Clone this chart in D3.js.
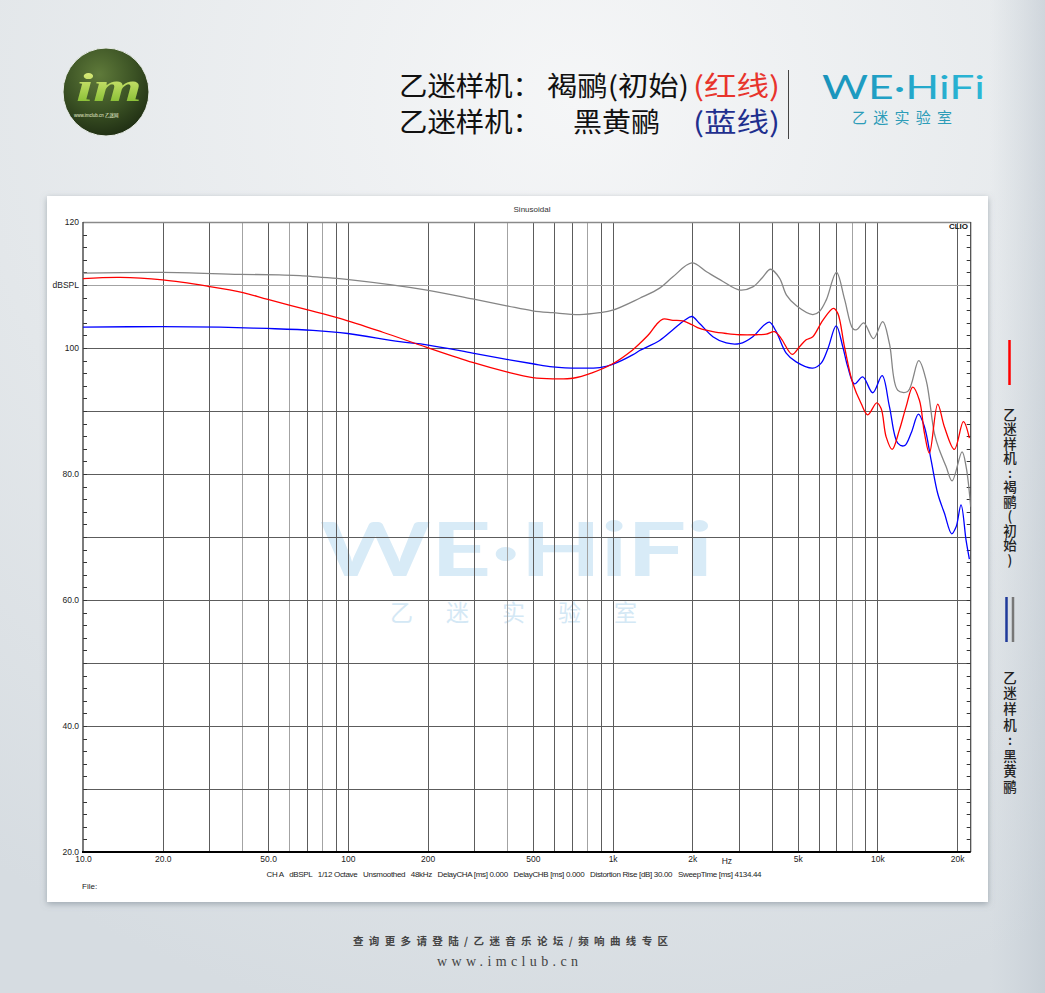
<!DOCTYPE html>
<html><head><meta charset="utf-8">
<script src="https://cdn.jsdelivr.net/npm/d3@7"></script>
<style>body{margin:0;background:#e4e8eb;overflow:hidden} svg{display:block}</style>
</head><body><svg id="c" width="1045" height="993"></svg>
<script>
// ---------------- DATA ----------------
const redFreq = [10,13.8,20,29.6,40.2,49.9,70,93.3,135.6,198.7,296,398,499,594,707,841,1000,1190,1265,1379,1462,1548,1689,1842,1992,2130,2391,2686,3015,3485,3802,4087,4331,4765,5077,5381,5700,6218,6823,7084,7508,8069,8680,9191,9940,10327,10785,11364,12106,12833,13593,14406,15047,15713,16889,17895,19525,21108,22240];
const redDb   = [111.0,111.2,110.8,109.8,108.8,107.7,106.1,104.7,102.5,100.1,97.7,96.2,95.3,95.1,95.2,96.1,97.5,99.7,100.7,102.3,103.7,104.6,104.4,104.3,103.7,103.1,102.6,102.3,102.1,102.1,102.2,102.6,101.5,99.0,100.2,101.3,101.8,104.4,106.3,105.5,100.2,94.4,91.2,89.4,91.3,90.4,85.9,83.9,87.0,90.7,93.8,91.7,86.5,83.3,91.1,87.5,83.9,88.3,85.7];

const blueFreq = [10,20,32.9,49.5,73.8,100,157,198.7,296,398,499,594,751,893,1000,1190,1265,1505,1689,1870,1992,2130,2391,2686,3015,3384,3746,3913,4148,4523,4933,5700,6131,6500,6985,7398,7726,8188,8801,9600,10417,11100,11931,12645,13406,14281,15047,15947,16889,17895,19071,19815,20690,21610,22240];
const blueDb   = [103.3,103.4,103.3,103.1,102.8,102.3,101.0,100.5,99.2,98.2,97.5,97.0,96.8,96.9,97.4,98.9,99.6,101.2,102.9,104.4,105.0,103.9,101.8,100.8,100.7,101.8,103.7,104.1,102.6,99.2,97.8,96.8,97.6,99.9,103.5,100.2,97.0,94.3,95.4,92.9,95.6,90.7,84.9,84.5,86.5,89.5,87.5,82.2,76.9,73.8,70.5,71.6,75.1,69.5,66.5];

const grayFreq = [10,20,39,55,66,93,99,199,296,398,499,594,751,893,1000,1265,1505,1689,1992,2263,2601,3015,3384,3681,3947,4267,4535,4946,5700,6040,6404,7003,7508,8069,8354,8879,9659,10471,11100,11931,13012,14318,15270,16413,17140,18161,19137,20872,21610,22500];
const grayDb   = [111.9,112.0,111.7,111.6,111.5,111.0,110.9,109.2,107.8,106.7,105.9,105.6,105.3,105.6,106.0,107.9,109.5,111.3,113.5,112.1,110.6,109.2,109.7,111.2,112.5,111.1,108.4,106.7,105.3,105.8,107.6,112.0,107.8,103.1,102.9,104.0,101.5,104.2,100.7,93.3,93.1,98.0,94.9,86.4,83.8,81.2,78.9,83.5,81.2,74.8];

const xTickValues = [10,20,50,100,200,500,1000,2000,5000,10000,20000];
const xTickLabels = ["10.0","20.0","50.0","100","200","500","1k","2k","5k","10k","20k"];
const yTickValues = [20,40,60,80,100,110,120];
const yTickLabels = ["20.0","40.0","60.0","80.0","100","dBSPL","120"];

const titleLine1 = ["乙迷样机：","褐鹂(初始)","(红线)"];
const titleLine2 = ["乙迷样机：","黑黄鹂","(蓝线)"];
const legendText1 = "乙迷样机:褐鹂(初始)";
const legendText2 = "乙迷样机:黑黄鹂";
const infoText = "CH A   dBSPL   1/12 Octave   Unsmoothed   48kHz   DelayCHA [ms] 0.000   DelayCHB [ms] 0.000   Distortion Rise [dB] 30.00   SweepTime [ms] 4134.44";
const footerText = "查询更多请登陆/乙迷音乐论坛/频响曲线专区";
const footerUrl = "www.imclub.cn";

// ---------------- DRAW ----------------
const svg = d3.select("#c");
const defs = svg.append("defs");

// background gradients
const bg = defs.append("radialGradient").attr("id","bg").attr("cx","0.55").attr("cy","0.1").attr("r","0.95");
bg.append("stop").attr("offset","0").attr("stop-color","#f5f6f7");
bg.append("stop").attr("offset","0.6").attr("stop-color","#e3e7ea");
bg.append("stop").attr("offset","1").attr("stop-color","#d6dce1");
const rs = defs.append("linearGradient").attr("id","rs").attr("x1","0").attr("x2","1").attr("y1","0").attr("y2","0");
rs.append("stop").attr("offset","0").attr("stop-color","#c5ced6").attr("stop-opacity","0");
rs.append("stop").attr("offset","1").attr("stop-color","#bcc5ce").attr("stop-opacity","0.55");
svg.append("rect").attr("width",1045).attr("height",993).attr("fill","url(#bg)");
svg.append("rect").attr("x",990).attr("width",55).attr("height",993).attr("fill","url(#rs)");

// shadow filter
const f = defs.append("filter").attr("id","sh").attr("x","-5%").attr("y","-5%").attr("width","110%").attr("height","112%");
f.append("feDropShadow").attr("dx",0).attr("dy",2).attr("stdDeviation",3).attr("flood-color","#6d7a86").attr("flood-opacity",0.55);

// logo
const lg = defs.append("radialGradient").attr("id","logo").attr("cx","0.42").attr("cy","0.3").attr("r","0.75");
lg.append("stop").attr("offset","0").attr("stop-color","#5f7a3a");
lg.append("stop").attr("offset","0.55").attr("stop-color","#3b5224");
lg.append("stop").attr("offset","1").attr("stop-color","#1d2b12");
const ig = defs.append("linearGradient").attr("id","im").attr("x1","0").attr("x2","0").attr("y1","0").attr("y2","1");
ig.append("stop").attr("offset","0").attr("stop-color","#eef58a");
ig.append("stop").attr("offset","1").attr("stop-color","#74b424");
svg.append("ellipse").attr("cx",106).attr("cy",92).attr("rx",43).attr("ry",44).attr("fill","url(#logo)").attr("stroke","#e8ece8").attr("stroke-width",1);
svg.append("text").attr("x",76).attr("y",101).attr("font-family","Liberation Serif, serif").attr("font-style","italic").attr("font-weight","bold").attr("font-size",40)
  .attr("fill","url(#im)").attr("textLength",66).attr("lengthAdjust","spacingAndGlyphs").text("im");
svg.append("text").attr("x",74).attr("y",117).attr("font-family","Liberation Sans, Noto Sans CJK SC, sans-serif").attr("font-size",4.5).attr("fill","#e8f0d0").text("www.imclub.cn   乙迷网");

// title
const tFont = "'Noto Sans CJK SC', sans-serif";
function titleLine(parts, y, xs, lens, colors){
  parts.forEach((p,i)=>{
    svg.append("text").attr("x",xs[i]).attr("y",y).attr("font-family",tFont).attr("font-size",27)
      .attr("fill",colors[i]).attr("textLength",lens[i]).attr("lengthAdjust","spacingAndGlyphs").text(p);
  });
}
titleLine(titleLine1, 96, [399,547,693], [142,142,87], ["#111","#111","#e8342c"]);
titleLine(titleLine2, 132, [399,573,693], [142,87,87], ["#111","#111","#1f2f8e"]);
svg.append("line").attr("x1",788.5).attr("x2",788.5).attr("y1",70).attr("y2",139).attr("stroke","#444").attr("stroke-width",1);

const wg = defs.append("linearGradient").attr("id","we").attr("x1","0").attr("x2","1").attr("y1","0").attr("y2","0");
wg.append("stop").attr("offset","0").attr("stop-color","#1a93bb");
wg.append("stop").attr("offset","1").attr("stop-color","#2bb7d6");
svg.append("text").attr("x",822).attr("y",99).attr("font-family","Lato, 'Open Sans', sans-serif").attr("font-size",33)
  .attr("fill","url(#we)").attr("textLength",163).attr("lengthAdjust","spacingAndGlyphs").text("WE·HiFi");
svg.append("text").attr("x",852).attr("y",123).attr("font-family",tFont).attr("font-size",15)
  .attr("fill","#2c9cb8").attr("textLength",100).attr("lengthAdjust","spacing").text("乙迷实验室");

// panel
svg.append("rect").attr("x",47).attr("y",196).attr("width",941).attr("height",706).attr("fill","#fff").attr("filter","url(#sh)");

// scales
const x = d3.scaleLog().domain([10,22500]).range([83,970.7]);
const y = d3.scaleLinear().domain([20,120]).range([852,222]);
const X0 = 83, X1 = 970.7, Y0 = 852, Y1 = 222;

// watermark (under grid)
svg.append("text").attr("x",320).attr("y",576).attr("font-family","Lato, 'Open Sans', sans-serif").attr("font-weight","bold").attr("font-size",74)
  .attr("fill","#d8ebf7").attr("textLength",393).attr("lengthAdjust","spacingAndGlyphs").text("WE·HiFi");
svg.append("text").attr("x",390).attr("y",621).attr("font-family",tFont).attr("font-size",23)
  .attr("fill","#d4e8f5").attr("textLength",247).attr("lengthAdjust","spacing").text("乙迷实验室");

// grid
const g = svg.append("g");
const vgrid = [];
[10,100,1000,10000].forEach(d=>{ for(let m=1;m<=9;m++){ const v=d*m; if(v>10 && v<=20000) vgrid.push(v);} });
const lightSet = new Set([40,60,80,400,800,8000]);
g.selectAll("line.v").data(vgrid).join("line").attr("class","v")
  .attr("x1",d=>Math.round(x(d))+0.5).attr("x2",d=>Math.round(x(d))+0.5).attr("y1",Y1).attr("y2",Y0)
  .attr("stroke",d=>lightSet.has(d)?"#a3a3a3":"#5c5c5c").attr("stroke-width",1);
const hgrid = d3.range(30,120,10);
g.selectAll("line.h").data(hgrid).join("line").attr("class","h")
  .attr("x1",X0).attr("x2",X1).attr("y1",d=>Math.round(y(d))+0.5).attr("y2",d=>Math.round(y(d))+0.5)
  .attr("stroke",d=>d===110?"#a3a3a3":"#5c5c5c").attr("stroke-width",1);

// minor ticks (2 dB)
const minor = d3.range(22,120,2);
g.selectAll("line.ml").data(minor).join("line").attr("class","ml")
  .attr("x1",X0).attr("x2",X0+4).attr("y1",d=>Math.round(y(d))+0.5).attr("y2",d=>Math.round(y(d))+0.5).attr("stroke","#333");
g.selectAll("line.mr").data(minor).join("line").attr("class","mr")
  .attr("x1",X1-4).attr("x2",X1).attr("y1",d=>Math.round(y(d))+0.5).attr("y2",d=>Math.round(y(d))+0.5).attr("stroke","#333");

// frame
g.append("line").attr("x1",X0).attr("x2",X1).attr("y1",Y1+0.5).attr("y2",Y1+0.5).attr("stroke","#8a8a8a").attr("stroke-width",1.5);
g.append("line").attr("x1",X0).attr("x2",X0).attr("y1",Y1).attr("y2",Y0).attr("stroke","#444").attr("stroke-width",1.4);
g.append("line").attr("x1",X1).attr("x2",X1).attr("y1",Y1).attr("y2",Y0).attr("stroke","#444").attr("stroke-width",1.2);

// curves
defs.append("clipPath").attr("id","clip").append("rect").attr("x",X0).attr("y",Y1).attr("width",X1-X0).attr("height",Y0-Y1);
const line = d3.line().x(d=>x(d[0])).y(d=>y(d[1])).curve(d3.curveCatmullRom.alpha(0.5));
const cg = svg.append("g").attr("clip-path","url(#clip)");
const series = [[grayFreq,grayDb,"#858585"],[blueFreq,blueDb,"#0000ff"],[redFreq,redDb,"#ff0000"]];
series.forEach(([fq,db,c])=>{
  cg.append("path").datum(fq.map((v,i)=>[v,db[i]])).attr("d",line).attr("fill","none").attr("stroke",c).attr("stroke-width",1.3);
});

// bottom axis line
svg.append("line").attr("x1",X0-1).attr("x2",X1).attr("y1",Y0).attr("y2",Y0).attr("stroke","#000").attr("stroke-width",2);

// axes labels
const lf = "'Liberation Sans', Arial, sans-serif";
const xAxis = d3.axisBottom(x).tickValues(xTickValues).tickFormat((d,i)=>xTickLabels[i]).tickSize(0).tickPadding(0);
const xa = svg.append("g").attr("transform",`translate(0,${Y0+4})`).call(xAxis);
xa.select(".domain").remove();
xa.selectAll("text").attr("font-family",lf).attr("font-size",8.5).attr("fill","#222").attr("dy","0.71em");
svg.append("text").attr("x",x(2700)).attr("y",864).attr("text-anchor","middle").attr("font-family",lf).attr("font-size",8.5).attr("fill","#222").text("Hz");

const yAxis = d3.axisLeft(y).tickValues(yTickValues).tickFormat((d,i)=>yTickLabels[i]).tickSize(0).tickPadding(0);
const ya = svg.append("g").attr("transform",`translate(${X0-4},0)`).call(yAxis);
ya.select(".domain").remove();
ya.selectAll("text").attr("font-family",lf).attr("font-size",8.5).attr("fill","#222");

svg.append("text").attr("x",532).attr("y",212).attr("text-anchor","middle").attr("font-family",lf).attr("font-size",8).attr("fill","#333").text("Sinusoidal");
svg.append("text").attr("x",968).attr("y",229).attr("text-anchor","end").attr("font-family",lf).attr("font-weight","bold").attr("font-size",8).attr("fill","#111").text("CLIO");
svg.append("text").attr("x",266.5).attr("y",877).attr("font-family",lf).attr("font-size",8).attr("fill","#222")
  .attr("textLength",495).attr("lengthAdjust","spacing").style("white-space","pre").text(infoText);
svg.append("text").attr("x",82).attr("y",889).attr("font-family",lf).attr("font-size",8).attr("fill","#222").text("File:");

// right legend
svg.append("line").attr("x1",1009.5).attr("x2",1009.5).attr("y1",340).attr("y2",385).attr("stroke","#ff0000").attr("stroke-width",2.5);
svg.append("line").attr("x1",1006.5).attr("x2",1006.5).attr("y1",597).attr("y2",642).attr("stroke","#1f3a9a").attr("stroke-width",2.5);
svg.append("line").attr("x1",1013).attr("x2",1013).attr("y1",597).attr("y2",642).attr("stroke","#777").attr("stroke-width",2.5);
function vtext(str, y0, spacing){
  svg.append("text").attr("x",1010).attr("y",y0)
    .style("writing-mode","vertical-rl").style("text-orientation","upright")
    .attr("font-family",tFont).attr("font-size",13.5).attr("font-weight",500).attr("fill","#222")
    .attr("letter-spacing",spacing).text(str);
}
vtext(legendText1, 408, 1);
vtext(legendText2, 671, 2.1);

// footer
svg.append("text").attr("x",353).attr("y",945).attr("font-family",tFont).attr("font-weight","bold").attr("font-size",10.5).attr("fill","#444")
  .attr("textLength",315).attr("lengthAdjust","spacing").text(footerText);
svg.append("text").attr("x",437).attr("y",966).attr("font-family","'Liberation Serif', 'DejaVu Serif', serif").attr("font-size",14).attr("fill","#444")
  .attr("textLength",141).attr("lengthAdjust","spacing").text(footerUrl);
</script></body></html>
